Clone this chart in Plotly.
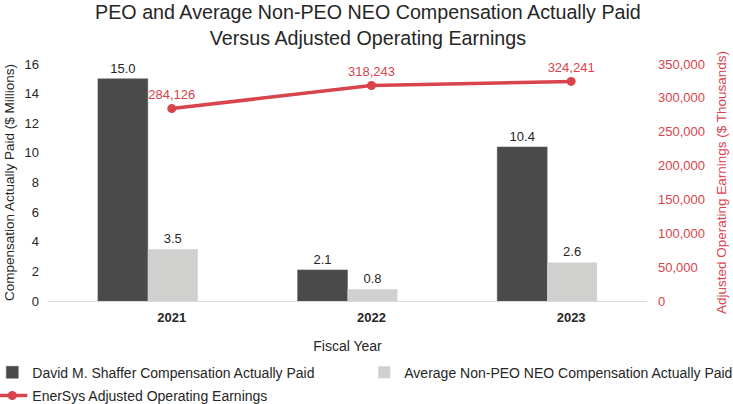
import plotly.graph_objects as go

years = ["2021", "2022", "2023"]
peo_cap = [15.0, 2.1, 10.4]
neo_cap = [3.5, 0.8, 2.6]
adj_op_earn = [284126, 318243, 324241]

left_ticks = [0, 2, 4, 6, 8, 10, 12, 14, 16]
right_ticks = [0, 50000, 100000, 150000, 200000, 250000, 300000, 350000]

FONT = "Liberation Sans, Arial, sans-serif"
RED = "#d9434c"
TXT = "#262626"

fig = go.Figure()
fig.add_trace(go.Bar(
    x=years, y=peo_cap, name="David M. Shaffer Compensation Actually Paid",
    legend="legend", legendgroup="a", legendrank=1,
    marker=dict(color="#4a4a4a", line=dict(color="#5a5a5a", width=0.5)),
    text=[f"{v:.1f}" for v in peo_cap], textposition="outside",
    textfont=dict(size=13, color=TXT, family=FONT), cliponaxis=False,
))
fig.add_trace(go.Bar(
    x=years, y=neo_cap, name="Average Non-PEO NEO Compensation Actually Paid",
    legend="legend2", legendgroup="b",
    marker=dict(color="#d0d0cf", line=dict(width=0)),
    text=[f"{v:.1f}" for v in neo_cap], textposition="outside",
    textfont=dict(size=13, color=TXT, family=FONT), cliponaxis=False,
))
fig.add_trace(go.Scatter(
    x=years, y=adj_op_earn, name="EnerSys Adjusted Operating Earnings",
    legend="legend", legendgroup="c", legendrank=2,
    mode="lines+markers+text", xaxis="x2", yaxis="y2",
    line=dict(color=RED, width=3.5), marker=dict(color=RED, size=9),
    text=[f"{v:,}" for v in adj_op_earn], textposition="top center",
    textfont=dict(size=13, color=RED, family=FONT), cliponaxis=False,
))

legend_common = dict(orientation="v", xref="paper", yref="paper", xanchor="left",
                     yanchor="top", font=dict(size=14, color=TXT, family=FONT),
                     itemwidth=30, tracegroupgap=2, bgcolor="rgba(0,0,0,0)")

fig.update_layout(
    width=733, height=404,
    margin=dict(l=48, r=86, t=64, b=103, autoexpand=False),
    paper_bgcolor="white", plot_bgcolor="white",
    font=dict(family=FONT, color=TXT, size=13),
    title=dict(text="PEO and Average Non-PEO NEO Compensation Actually Paid<br>Versus Adjusted Operating Earnings",
               x=0.502, xanchor="center", y=0.953, yanchor="top",
               font=dict(size=19.7, color=TXT, family=FONT)),
    barmode="group", bargap=0.5, bargroupgap=0,
    showlegend=True,
    legend=dict(legend_common, x=-0.093, y=-0.235),
    legend2=dict(legend_common, x=0.528, y=-0.235),
    xaxis=dict(type="category", range=[-0.5, 2.5], showticklabels=False, automargin=False,
               showline=True, linecolor="#d9d9d9", linewidth=1, ticks="",
               showgrid=False, zeroline=False,
               title=dict(text="Fiscal Year", font=dict(size=14, color=TXT), standoff=40)),
    xaxis2=dict(type="category", overlaying="x", side="bottom", anchor="y", automargin=False,
                range=[-0.62, 2.38], showline=False, showgrid=False, ticks="", ticklabelstandoff=7,
                tickfont=dict(size=13, color=TXT, family="Liberation Sans, Arial", weight="bold")),
    yaxis=dict(range=[0, 16], tickvals=left_ticks, showgrid=False, zeroline=False, automargin=False,
               showline=False, ticks="", ticklabelstandoff=8, tickfont=dict(size=13, color=TXT),
               title=dict(text="Compensation Actually Paid ($ Millions)",
                          font=dict(size=13.5, color=TXT), standoff=6)),
    yaxis2=dict(range=[0, 350000], tickvals=right_ticks, overlaying="y", side="right", automargin=False,
                anchor="x2", showgrid=False, zeroline=False, showline=False, ticks="",
                ticklabelstandoff=10,
                tickformat=",", tickfont=dict(size=13, color=RED),
                title=dict(text="Adjusted Operating Earnings ($ Thousands)",
                           font=dict(size=13.5, color=RED), standoff=12)),
)

fig.write_html("out.html", config={"displayModeBar": False},
               post_script="document.body.style.margin='0';")
